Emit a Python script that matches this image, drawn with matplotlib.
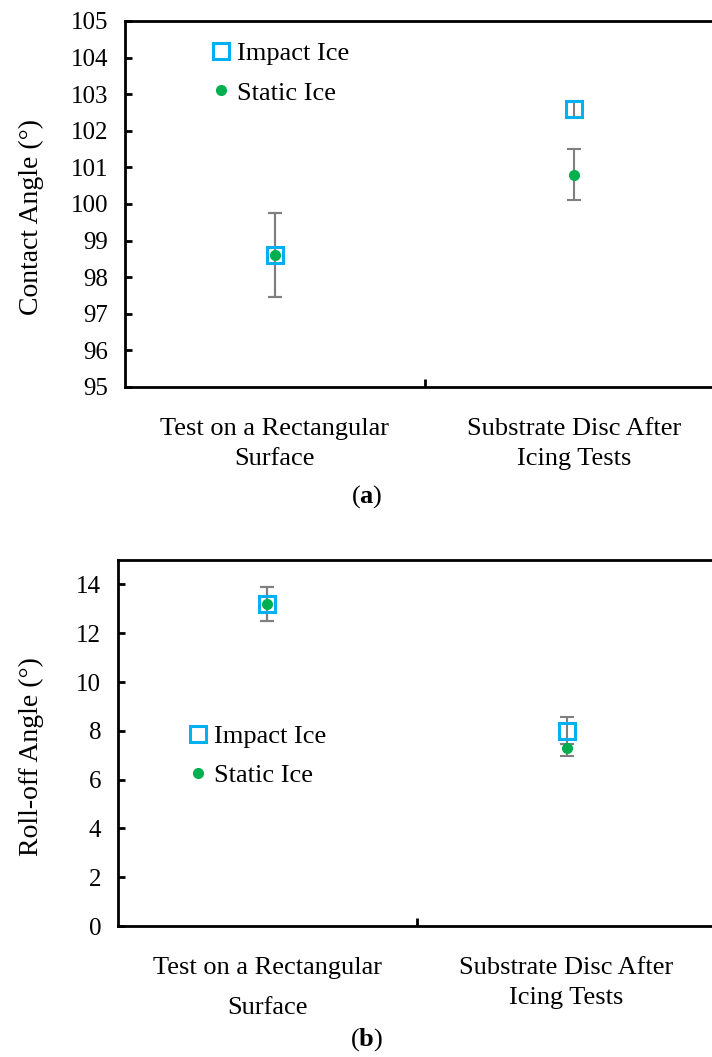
import matplotlib.pyplot as plt

plt.rcParams['font.family'] = ['Liberation Serif', 'DejaVu Serif']
plt.rcParams['mathtext.fontset'] = 'custom'
plt.rcParams['mathtext.rm'] = 'Liberation Serif'
plt.rcParams['mathtext.bf'] = 'Liberation Serif:bold'

categories = ["Test on a Rectangular\nSurface", "Substrate Disc After\nIcing Tests"]

# (a) contact angle
contact_impact = [98.6, 102.6]
contact_impact_err = [1.15, 0.22]
contact_static = [98.6, 100.8]
contact_static_err = [1.15, 0.7]

# (b) roll-off angle
rolloff_impact = [13.2, 8.0]
rolloff_impact_err = [0.7, 0.55]
rolloff_static = [13.2, 7.3]
rolloff_static_err = [0.7, 0.35]

BLUE = "#00B0F0"
GREEN = "#00B050"
GREY = "#7F7F7F"
x = [0.5, 1.5]


def draw(ax, impact, impact_err, static, static_err, ylim, yticks, leg_anchor, spacings):
    ax.errorbar(x, impact, yerr=impact_err, fmt="none", ecolor=GREY, elinewidth=1.5,
                capsize=5, capthick=1.5, zorder=2)
    ax.errorbar(x, static, yerr=static_err, fmt="none", ecolor=GREY, elinewidth=1.5,
                capsize=5, capthick=1.5, zorder=2)
    ax.plot(x, impact, ls="none", marker="s", ms=11.5, mfc="none", mec=BLUE, mew=2.2,
            label="Impact Ice", zorder=3)
    ax.plot(x, static, ls="none", marker="o", ms=7, color=GREEN, label="Static Ice", zorder=4)

    ax.set_xlim(0, 2)
    ax.set_ylim(*ylim)
    ax.set_yticks(yticks)
    ax.set_xticks(x)
    ax.set_xticklabels(categories, fontsize=19)
    for lab, sp in zip(ax.get_xticklabels(), spacings):
        lab.set_linespacing(sp)
    ax.set_xticks([1.0], minor=True)
    ax.tick_params(axis="x", which="major", length=0, pad=22)
    ax.tick_params(axis="x", which="minor", direction="in", length=6, width=2)
    ax.tick_params(axis="y", direction="in", length=5, width=2, labelsize=18, pad=12)
    for s in ["left", "bottom", "top"]:
        ax.spines[s].set_linewidth(2)
    ax.spines["right"].set_visible(False)
    ax.legend(loc="upper left", bbox_to_anchor=leg_anchor, frameon=False, fontsize=19,
              handlelength=1.0, handletextpad=0.1, labelspacing=0.6,
              borderpad=0, borderaxespad=0)


fig = plt.figure(figsize=(7.12, 10.57), dpi=100)

ax1 = fig.add_axes([0.1756, 0.6339, 0.8413, 0.3463])
draw(ax1, contact_impact, contact_impact_err, contact_static, contact_static_err,
     (95, 105), range(95, 106), (0.138, 0.943), [1.47, 1.47])
ax1.set_ylabel("Contact Angle (°)", fontsize=20)
ax1.yaxis.set_label_coords(-0.136, 0.464)

ax2 = fig.add_axes([0.1657, 0.1239, 0.84, 0.3463])
draw(ax2, rolloff_impact, rolloff_impact_err, rolloff_static, rolloff_static_err,
     (0, 15), range(0, 15, 2), (0.112, 0.55), [2.1, 1.5])
ax2.set_ylabel("Roll-off Angle (°)", fontsize=20)
ax2.yaxis.set_label_coords(-0.124, 0.462)

fig.text(367 / 712, 1 - 497 / 1057, r"($\mathbf{a}$)", ha="center", va="center", fontsize=19)
fig.text(367 / 712, 1 - 1040 / 1057, r"($\mathbf{b}$)", ha="center", va="center", fontsize=19)

fig.savefig("out.png", dpi=100)
